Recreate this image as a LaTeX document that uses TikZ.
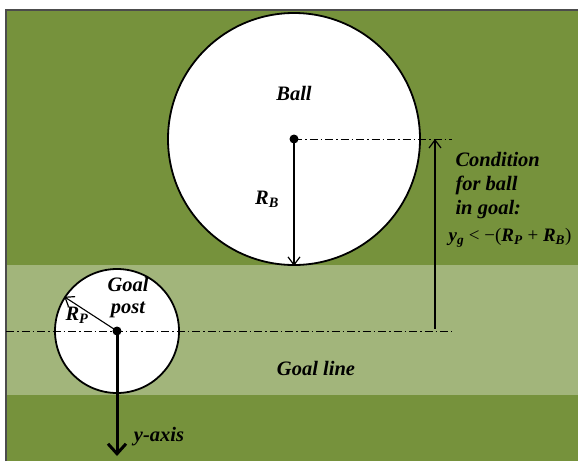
\documentclass[tikz,border=0pt]{standalone}
\usepackage{amsmath}
\usepackage{amssymb}
\usepackage{fontspec}
\setmainfont{Liberation Serif}
\usetikzlibrary{arrows.meta,positioning}
\definecolor{field}{HTML}{76923C}
\definecolor{band}{HTML}{A2B57B}
\newcommand{\bsub}[2]{\textbf{\textit{#1}}\textsubscript{\textbf{\textit{#2}}}}

\begin{document}
\begin{tikzpicture}[x=1pt,y=-1pt,
		lbl/.style={font=\bfseries\itshape\fontsize{20.5}{22}\selectfont},
		refline/.style={line width=1pt,dash pattern=on 8pt off 3pt on 1.5pt off 3pt},
		disc/.style={circle,draw,fill=white,line width=1.8pt,inner sep=0pt},
		barb/.style={-{Straight Barb[length=8pt,width=12pt,line width=1.2pt]},line width=1.1pt}]
		\useasboundingbox (0,0) rectangle (578,461);
		
		\fill[field] (6,10) rectangle (578,461);
		\fill[band] (6,265) rectangle (578,395);
		\draw[line width=1.5pt,black!70] (6,461) -- (6,10) -- (578,10);
		
		\node[disc,minimum size=252pt] (ball) at (294,139) {};
		\node[disc,minimum size=124pt] (post) at (117,331) {};
		
		\coordinate (gl west) at (6,331);
		\coordinate (gl east) at (452,331);
		\coordinate (top east) at (452,139);
		\coordinate (gap top) at (435,139);
		\coordinate (gap bot) at (435,329);
		\coordinate (yend) at (117,456);
		
		\draw[refline] (gl west) -- (gl east);
		\draw[refline] (ball.center) -- (top east);
		\draw[barb,{Straight Barb[length=8pt,width=12pt,line width=1.2pt]}-] (gap top) -- (gap bot);
		
		\draw[barb] (ball.center) -- (ball.south);
		\draw[barb] (post.center) -- (post.147);
		\draw[-{Straight Barb[length=10pt,width=18pt,line width=3pt]},line width=3pt] (post.center) -- (yend);
		\fill (ball.center) circle (4.5);
		\fill (post.center) circle (4.5);
		
		\node[lbl] (balltxt) at (294,93) {Ball};
		\node[lbl] (rb) at (267,199) {\bsub{R}{B}};
		\node[lbl,align=center] (posttxt) at (128,298) {Goal\\post};
		\node[lbl] (rp) at (77,315) {\bsub{R}{P}};
		\node[lbl] (gltxt) at (316,368) {Goal line};
		\node[lbl] (ytxt) at (159,437) {y-axis};
		\node[lbl,align=left,anchor=north west,font=\bfseries\itshape\fontsize{20.5}{24}\selectfont] (cond) at (452,149) {Condition\\for ball\\in goal:};
		\node[font=\fontsize{19}{22}\selectfont] (condeq) at (510,238) {\bsub{y}{g} < −(\bsub{R}{P} + \bsub{R}{B})};
	\end{tikzpicture}
\end{document}
